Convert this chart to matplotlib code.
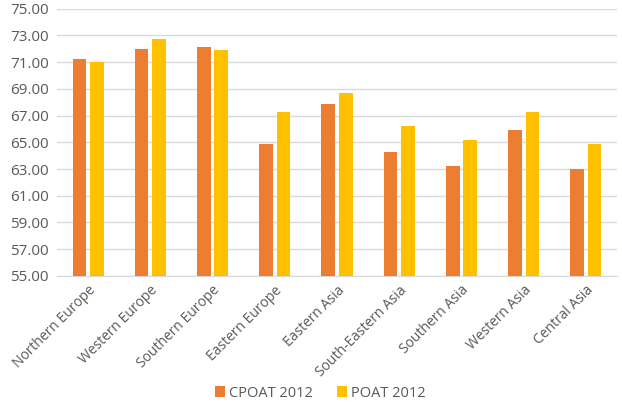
import matplotlib
matplotlib.use("Agg")
import matplotlib.pyplot as plt
import numpy as np

categories = ["Northern Europe", "Western Europe", "Southern Europe", "Eastern Europe",
              "Eastern Asia", "South-Eastern Asia", "Southern Asia", "Western Asia", "Central Asia"]
cpoat_2012 = [71.2, 72.0, 72.1, 64.9, 67.9, 64.3, 63.2, 65.9, 63.0]
poat_2012 = [71.0, 72.7, 71.9, 67.3, 68.7, 66.2, 65.2, 67.3, 64.9]
yticks = [55, 57, 59, 61, 63, 65, 67, 69, 71, 73, 75]

plt.rcParams['font.family'] = ['Open Sans', 'DejaVu Sans']
text_color = '#595959'

fig = plt.figure(figsize=(6.22, 4.04), dpi=100)
ax = fig.add_axes([0.0916, 0.317, 0.9004, 0.6615])

x = np.arange(len(categories))
w = 0.22
off = 0.14
ax.bar(x - off, np.array(cpoat_2012) - 55, w, bottom=55, color='#ED7D31', label='CPOAT 2012', zorder=3)
ax.bar(x + off, np.array(poat_2012) - 55, w, bottom=55, color='#FFC000', label='POAT 2012', zorder=3)

ax.set_xlim(-0.5, len(categories) - 0.5)
ax.set_ylim(55, 75)
ax.set_yticks(yticks)
ax.set_yticklabels([f"{v:.2f}" for v in yticks], color=text_color, fontsize=11)
ax.set_xticks(x)
ax.set_xticklabels(categories, rotation=45, ha='right', rotation_mode='anchor',
                   color=text_color, fontsize=10)
ax.tick_params(axis='both', length=0)
ax.tick_params(axis='y', pad=6)
ax.tick_params(axis='x', pad=5)
ax.grid(axis='y', color='#D9D9D9', linewidth=1, zorder=0)
for s in ['top', 'right', 'left']:
    ax.spines[s].set_visible(False)
ax.spines['bottom'].set_color('#D9D9D9')

leg = fig.legend(loc='center', bbox_to_anchor=(0.515, 0.027), ncol=2, frameon=False,
                 fontsize=10.5, handlelength=0.7, handleheight=0.7, handletextpad=0.3,
                 columnspacing=1.6)
for t in leg.get_texts():
    t.set_color(text_color)

fig.savefig("out.png", dpi=100, facecolor='white')
